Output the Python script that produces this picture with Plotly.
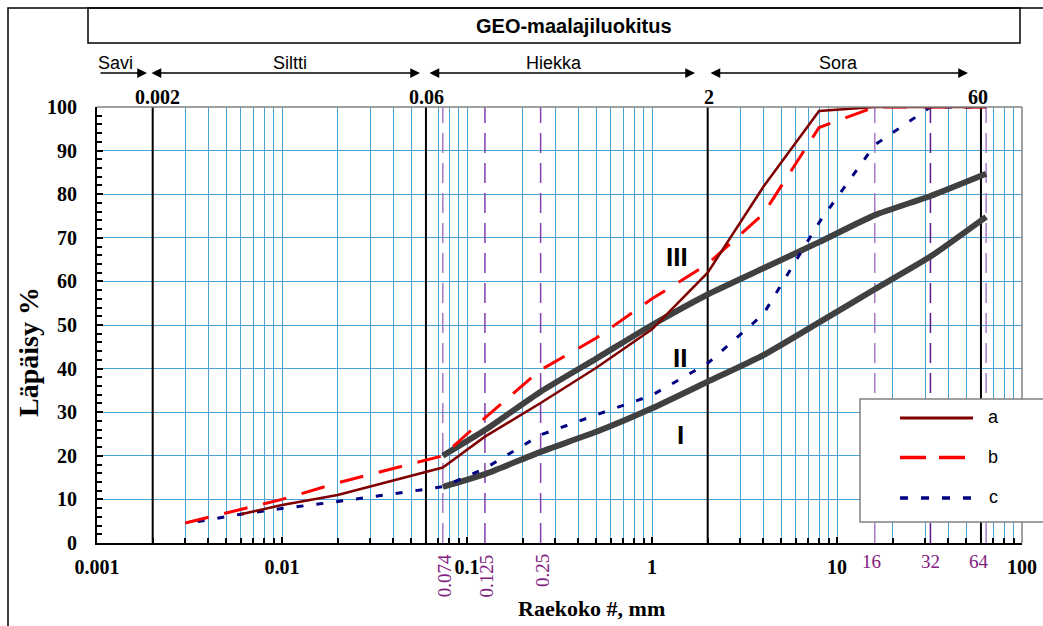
import math
import plotly.graph_objects as go

# ---- grading curves (grain size in mm, passing %) ----
a_x = [0.006, 0.01, 0.02, 0.06, 0.074, 0.125, 0.25, 0.5, 1, 2, 4, 8, 16, 32, 64]
a_y = [6.6, 8.7, 11.0, 16.3, 17.3, 24.4, 32.1, 40.2, 49.0, 62.0, 81.7, 99.1, 100, 100, 100]

b_x = [0.003, 0.01, 0.02, 0.06, 0.074, 0.125, 0.25, 0.5, 1, 2, 4, 8, 16, 32, 64]
b_y = [4.6, 10.0, 13.8, 19.0, 20.0, 28.7, 39.7, 47.0, 56.0, 64.0, 75.5, 95.3, 100, 100, 100]

c_x = [0.0035, 0.006, 0.01, 0.02, 0.04, 0.074, 0.125, 0.25, 0.5, 1, 2, 4, 8, 16, 32, 64]
c_y = [4.9, 6.6, 7.9, 9.5, 11.3, 12.9, 17.1, 24.8, 29.4, 33.9, 41.2, 52.5, 73.5, 91.3, 100, 100]

# grading envelope (zone limits)
env_x = [0.074, 0.125, 0.25, 0.5, 1, 2, 4, 8, 16, 32, 64]
env_lower = [12.9, 15.8, 20.9, 25.5, 30.9, 37.0, 43.1, 50.6, 58.2, 65.7, 74.8]
env_upper = [20.0, 25.9, 34.7, 42.3, 50.0, 57.0, 63.0, 69.0, 75.2, 79.6, 84.7]

# zone labels: text, grain size, passing %
zone_names = ["III", "II", "I"]
zone_x = [1.36, 1.41, 1.42]
zone_y = [65.6, 42.4, 24.8]

# GEO soil classification boundaries
class_limits = [0.002, 0.06, 2, 60]
class_limit_labels = ["0.002", "0.06", "2", "60"]
class_names = ["Savi", "Siltti", "Hiekka", "Sora"]

# sieve sizes marked on the chart
sieves_fine = [0.074, 0.125, 0.25]
sieves_fine_labels = ["0.074", "0.125", "0.25"]
sieves_coarse = [16, 32, 64]
sieves_coarse_labels = ["16", "32", "64"]
sieve_colors = ["#A77BC9", "#8040B0", "#8040B0", "#A77BC9", "#5A1A8A", "#A77BC9"]

x_ticks = [0.001, 0.01, 0.1, 1, 10, 100]
x_tick_text = ["0.001", "0.01", "0.1", "1", "10", "100"]
y_ticks = [0, 10, 20, 30, 40, 50, 60, 70, 80, 90, 100]

W, H = 1043, 626
L, R, T, B = 97, 21, 107, 83
PW, PH = W - L - R, H - T - B


def px(x):
    return (x - L) / PW


def py(y):
    return (H - B - y) / PH


SERIF = "Liberation Serif"
SANS = "Liberation Sans"
GRID = "#4AA3D8"
PURPLE = "#802080"

fig = go.Figure()

for ys in (env_lower, env_upper):
    fig.add_trace(go.Scatter(x=env_x, y=ys, mode="lines", line=dict(color="#404040", width=6, shape="spline", smoothing=0.5),
                             hoverinfo="skip", showlegend=False))

fig.add_trace(go.Scatter(x=c_x, y=c_y, mode="lines", name="c", line=dict(color="#000080", width=3, dash="7px,13px")))
fig.add_trace(go.Scatter(x=b_x, y=b_y, mode="lines", name="b", line=dict(color="#FF0000", width=3, dash="24px,16px")))
fig.add_trace(go.Scatter(x=a_x, y=a_y, mode="lines", name="a", line=dict(color="#800000", width=2.5)))

minor_vals = [m * 10 ** e for e in range(-3, 2) for m in range(1, 10)] + [100]

fig.update_xaxes(
    type="log", range=[-3, 2], automargin=False,
    tickmode="array", tickvals=x_ticks, ticktext=["<b>%s</b>" % t for t in x_tick_text],
    tickfont=dict(family=SERIF, size=20, color="black"),
    showgrid=True, gridcolor=GRID, gridwidth=1,
    ticks="inside", ticklen=6, tickcolor="black", tickwidth=1.5,
    ticklabelstandoff=5,
    minor=dict(tickmode="array", tickvals=minor_vals, showgrid=True, gridcolor=GRID, gridwidth=1,
               ticks="inside", ticklen=5, tickcolor="black", tickwidth=1.5),
    showline=True, linecolor="black", linewidth=2, zeroline=False,
)
fig.update_yaxes(
    range=[0, 100], automargin=False,
    tickmode="array", tickvals=y_ticks, ticktext=["<b>%d</b>" % v for v in y_ticks],
    tickfont=dict(family=SERIF, size=20, color="black"),
    showgrid=True, gridcolor=GRID, gridwidth=1,
    ticks="inside", ticklen=6, tickcolor="black", tickwidth=1.5,
    ticklabelstandoff=14,
    minor=dict(tickmode="linear", tick0=0, dtick=2, ticks="inside", ticklen=5, tickcolor="black",
               tickwidth=1.5, showgrid=False),
    showline=True, linecolor="black", linewidth=2, zeroline=False,
)

shapes = []
# classification boundaries
for v in class_limits:
    shapes.append(dict(type="line", xref="x", yref="y", x0=v, x1=v, y0=0, y1=100, layer="between",
                       line=dict(color="black", width=2)))
# sieve lines
for v, col in zip(sieves_fine + sieves_coarse, sieve_colors):
    shapes.append(dict(type="line", xref="x", yref="y", x0=v, x1=v, y0=0, y1=100, layer="between",
                       line=dict(color=col, width=1.5, dash="20px,10px")))
# plot frame: top and right in grey
shapes.append(dict(type="line", xref="paper", yref="paper", x0=0, x1=1, y0=1, y1=1, line=dict(color="#808080", width=1.5)))
shapes.append(dict(type="line", xref="paper", yref="paper", x0=1, x1=1, y0=0, y1=1, line=dict(color="#808080", width=1.5)))
# outer frame and title box
shapes.append(dict(type="rect", xref="paper", yref="paper", x0=px(8), x1=px(1060), y0=py(660), y1=py(8),
                   line=dict(color="black", width=1.5)))
shapes.append(dict(type="rect", xref="paper", yref="paper", x0=px(88), x1=px(1020), y0=py(43), y1=py(8),
                   line=dict(color="black", width=1.5)))
# legend box and samples
shapes.append(dict(type="rect", xref="paper", yref="paper", x0=px(860), x1=px(1060), y0=py(522), y1=py(399),
                   fillcolor="white", line=dict(color="#808080", width=1.5), layer="above"))
legend_items = [("a", "#800000", 3, "solid", 418), ("b", "#FF0000", 3.5, "26px,13px", 457.5),
                ("c", "#000080", 3.5, "8px,13px", 498)]
for name, col, wdt, dsh, yy in legend_items:
    shapes.append(dict(type="line", xref="paper", yref="paper", x0=px(900), x1=px(973), y0=py(yy), y1=py(yy),
                       line=dict(color=col, width=wdt, dash=dsh), layer="above"))

ann = []


def text_at(text, x, y, font, xref="paper", yref="paper", **kw):
    d = dict(text=text, xref=xref, yref=yref, x=x, y=y, showarrow=False, font=font,
             xanchor="center", yanchor="middle")
    d.update(kw)
    ann.append(d)


text_at("<b>GEO-maalajiluokitus</b>", px(574), py(26), dict(family=SANS, size=20, color="black"))
# class name texts
for name, cx in zip(class_names, [115, 290, 554, 838]):
    text_at(name, px(cx), py(63), dict(family=SANS, size=18, color="black"))
# arrows (tip x, tail x, both ends)
for tip, tail, both in [(147, 99, False), (420, 150, True), (695, 428, True), (968, 709, True)]:
    ann.append(dict(text="", xref="paper", yref="paper", x=px(tip), y=py(73), ax=tail - tip, ay=0,
                    showarrow=True, arrowhead=2, arrowsize=1.3, arrowwidth=1.5, arrowcolor="black",
                    arrowside="end+start" if both else "end", startarrowhead=2, startarrowsize=1.3))
# boundary values
for v, t, sh in zip(class_limits, class_limit_labels, [5, 1, 1, -3]):
    text_at("<b>%s</b>" % t, math.log10(v), py(97), dict(family=SERIF, size=20, color="black"), xref="x", xshift=sh)
# sieve labels
for v, t in zip(sieves_fine, sieves_fine_labels):
    text_at(t, math.log10(v), py(552), dict(family=SERIF, size=19, color=PURPLE), xref="x",
            yanchor="top", xshift=2, textangle=-90)
for v, t, sh in zip(sieves_coarse, sieves_coarse_labels, [-3, 0, -7]):
    text_at(t, math.log10(v), py(561), dict(family=SERIF, size=19, color=PURPLE), xref="x", xshift=sh)
# zone labels
for t, zx, zy in zip(zone_names, zone_x, zone_y):
    text_at("<b>%s</b>" % t, math.log10(zx), zy, dict(family=SANS, size=26, color="black"), xref="x", yref="y")
# axis titles
text_at("<b>Raekoko #, mm</b>", px(591), py(608), dict(family=SERIF, size=22, color="black"))
text_at("<b>Läpäisy %</b>", px(28), py(352), dict(family=SERIF, size=28, color="black"), textangle=-90)
# legend texts
for name, col, wdt, dsh, yy in legend_items:
    text_at(name, px(993), py(yy - 1), dict(family=SANS, size=18, color="black"))

fig.update_layout(
    width=W, height=H, margin=dict(l=L, r=R, t=T, b=B),
    paper_bgcolor="white", plot_bgcolor="white",
    showlegend=False, shapes=shapes, annotations=ann,
)

fig.write_html("out.html")
